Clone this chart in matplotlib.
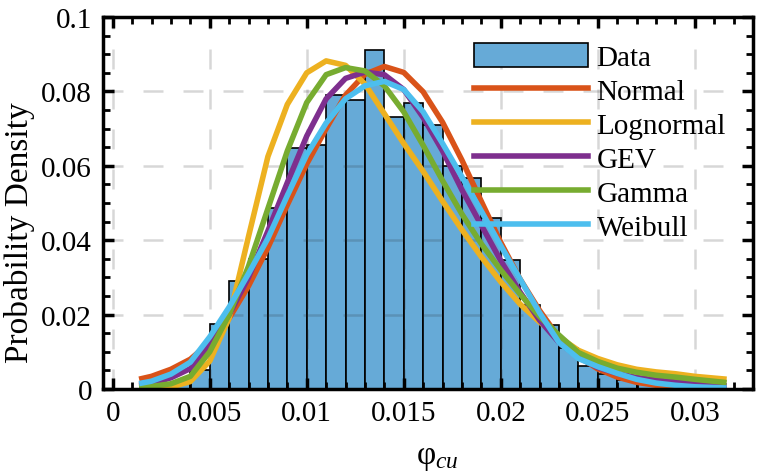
import matplotlib
matplotlib.use('Agg')
import matplotlib.pyplot as plt

# histogram of phi_cu (bin width 0.001), probability per bin
bin_left = [0.002, 0.003, 0.004, 0.005, 0.006, 0.007, 0.008, 0.009, 0.010, 0.011,
            0.012, 0.013, 0.014, 0.015, 0.016, 0.017, 0.018, 0.019, 0.020, 0.021,
            0.022, 0.023, 0.024, 0.025, 0.026, 0.027, 0.028, 0.029, 0.030]
bin_prob = [0.0008, 0.0020, 0.0050, 0.0174, 0.0289, 0.0350, 0.0487, 0.0647, 0.0656, 0.0789,
            0.0777, 0.0910, 0.0730, 0.0770, 0.0710, 0.0600, 0.0566, 0.0460, 0.0346, 0.0225,
            0.0171, 0.0110, 0.0063, 0.0040, 0.0023, 0.0015, 0.0010, 0.0006, 0.0003]

# fitted curves
x_fit = [0.0015, 0.002, 0.003, 0.004, 0.005, 0.006, 0.007, 0.008, 0.009, 0.010,
         0.011, 0.012, 0.013, 0.014, 0.015, 0.016, 0.017, 0.018, 0.019, 0.020,
         0.021, 0.022, 0.023, 0.024, 0.025, 0.026, 0.027, 0.028, 0.029, 0.030, 0.0315]
normal = [0.0028, 0.0034, 0.0053, 0.0080, 0.0125, 0.0190, 0.0277, 0.0380, 0.0495, 0.0605,
          0.0700, 0.0790, 0.0846, 0.0867, 0.0851, 0.0799, 0.0717, 0.0615, 0.0504, 0.0394,
          0.0295, 0.0211, 0.0138, 0.0088, 0.0054, 0.0032, 0.0018, 0.0010, 0.0005, 0.0003, 0.0001]
lognormal = [0.0001, 0.0001, 0.0005, 0.0020, 0.0075, 0.0190, 0.0410, 0.0625, 0.0765, 0.0850,
             0.0882, 0.0870, 0.0820, 0.0740, 0.0660, 0.0585, 0.0505, 0.0428, 0.0355, 0.0288,
             0.0228, 0.0180, 0.0140, 0.0104, 0.0082, 0.0065, 0.0053, 0.0046, 0.0041, 0.0034, 0.0027]
gev = [0.0011, 0.0015, 0.0030, 0.0055, 0.0120, 0.0200, 0.0300, 0.0425, 0.0555, 0.0680,
       0.0780, 0.0835, 0.0852, 0.0845, 0.0805, 0.0730, 0.0640, 0.0535, 0.0440, 0.0345,
       0.0260, 0.0185, 0.0125, 0.0085, 0.0058, 0.0042, 0.0031, 0.0024, 0.0019, 0.0014, 0.0009]
gamma = [0.0005, 0.0007, 0.0014, 0.0034, 0.0100, 0.0200, 0.0330, 0.0485, 0.0640, 0.0770,
         0.0845, 0.0864, 0.0855, 0.0815, 0.0745, 0.0655, 0.0560, 0.0470, 0.0390, 0.0320,
         0.0255, 0.0195, 0.0145, 0.0098, 0.0074, 0.0056, 0.0045, 0.0037, 0.0032, 0.0026, 0.0018]
weibull = [0.0016, 0.0021, 0.0040, 0.0072, 0.0140, 0.0220, 0.0310, 0.0405, 0.0520, 0.0630,
           0.0715, 0.0780, 0.0815, 0.0827, 0.0805, 0.0745, 0.0660, 0.0570, 0.0478, 0.0385,
           0.0295, 0.0205, 0.0125, 0.0082, 0.0060, 0.0042, 0.0026, 0.0016, 0.0010, 0.0006, 0.0003]

xticks = [0, 0.005, 0.01, 0.015, 0.02, 0.025, 0.03]
xticklabels = ['0', '0.005', '0.01', '0.015', '0.02', '0.025', '0.03']
yticks = [0, 0.02, 0.04, 0.06, 0.08, 0.1]
yticklabels = ['0', '0.02', '0.04', '0.06', '0.08', '0.1']

plt.rcParams['font.family'] = ['Liberation Serif', 'DejaVu Serif']
plt.rcParams['mathtext.fontset'] = 'custom'
plt.rcParams['mathtext.rm'] = 'Liberation Serif'
plt.rcParams['mathtext.it'] = 'Liberation Serif:italic'

fig = plt.figure(figsize=(7.58, 4.77), dpi=100)
ax = fig.add_axes([103 / 758, 1 - 390 / 477, 650 / 758, 372 / 477])

bars = ax.bar(bin_left, bin_prob, width=0.001, align='edge', color='#66aad7',
              edgecolor='black', linewidth=1.2, zorder=1, label='Data')

# dashed grid between bars and curves
for xt in xticks:
    ax.axvline(xt, color='#262626', alpha=0.18, lw=1.8, ls=(0, (8, 8)), zorder=1.5)
for yt in yticks[1:-1]:
    ax.axhline(yt, color='#262626', alpha=0.18, lw=1.8, ls=(0, (8, 8)), zorder=1.5)

lw = 4
l1, = ax.plot(x_fit, normal, color='#d95319', lw=lw, label='Normal', zorder=2)
l2, = ax.plot(x_fit, lognormal, color='#edb120', lw=lw, label='Lognormal', zorder=2)
l3, = ax.plot(x_fit, gev, color='#7e2f8e', lw=lw, label='GEV', zorder=2)
l4, = ax.plot(x_fit, gamma, color='#77ac30', lw=lw, label='Gamma', zorder=2)
l5, = ax.plot(x_fit, weibull, color='#4dbeee', lw=lw, label='Weibull', zorder=2)

ax.set_xlim(-0.0005, 0.033)
ax.set_ylim(0, 0.1)
ax.set_xticks(xticks)
ax.set_xticklabels(xticklabels)
ax.set_yticks(yticks)
ax.set_yticklabels(yticklabels)
ax.set_xticks([i / 1000 for i in range(0, 34)], minor=True)
ax.set_yticks([i / 200 for i in range(0, 21)], minor=True)
ax.tick_params(which='major', direction='in', length=8, width=2.5,
               top=True, right=True, labelsize=21, pad=8)
ax.tick_params(which='minor', direction='in', length=5, width=2,
               top=True, right=True)
for s in ax.spines.values():
    s.set_linewidth(2.5)
    s.set_zorder(3)

ax.set_ylabel('Probability Density', fontsize=24)
ax.yaxis.set_label_coords(-0.1046, 0.422)
ax.set_xlabel(r'$\mathrm{φ}_{cu}$', fontsize=24, va='top')
ax.xaxis.set_label_coords(0.515, -0.142)

ax.legend(handles=[bars, l1, l2, l3, l4, l5], loc='upper left',
          bbox_to_anchor=(0.571, 0.93), frameon=False,
          borderpad=0, borderaxespad=0, handlelength=3.9, handleheight=0.9,
          handletextpad=0.3, labelspacing=0.2, fontsize=21)

fig.savefig('out.png', dpi=100)
